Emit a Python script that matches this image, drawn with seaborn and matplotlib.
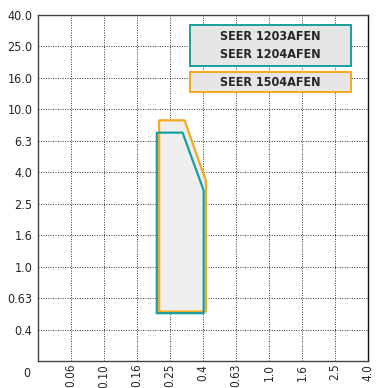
import matplotlib
matplotlib.use('Agg')
import matplotlib.pyplot as plt
import seaborn as sns
import pandas as pd
from matplotlib.patches import Rectangle

sns.set_style('white')
plt.rcParams['font.family'] = ['DejaVu Sans']
plt.rcParams['font.stretch'] = 'condensed'

# tick labels (axis uses evenly spaced steps)
x_labels = ['0.06', '0.10', '0.16', '0.25', '0.4', '0.63', '1.0', '1.6', '2.5', '4.0']
y_labels = ['0.4', '0.63', '1.0', '1.6', '2.5', '4.0', '6.3', '10.0', '16.0', '25.0', '40.0']

# operating envelopes, in axis step units
series_names = ['SEER 1504AFEN', 'SEER 1203AFEN\nSEER 1204AFEN']
series_colors = ['#f5a91c', '#17a09c']
env_x = [[3.67, 3.67, 4.44, 5.09, 5.09, 3.67],
         [3.60, 3.60, 4.38, 5.02, 5.02, 3.60]]
env_y = [[1.57, 7.65, 7.65, 5.72, 1.57, 1.57],
         [1.52, 7.26, 7.26, 5.42, 1.52, 1.52]]

fig = plt.figure(figsize=(3.77, 3.88), dpi=100)
ax = fig.add_axes([0.1008, 0.0696, 0.8754, 0.8918])

for xs, ys in zip(env_x, env_y):
    ax.fill(xs, ys, color='#efefef', zorder=1)
for xs, ys, c in zip(env_x, env_y, series_colors):
    df = pd.DataFrame({'x': xs, 'y': ys})
    sns.lineplot(data=df, x='x', y='y', sort=False, estimator=None, color=c, lw=1.6, ax=ax, zorder=3)

ax.set_xlim(0, len(x_labels))
ax.set_ylim(0, len(y_labels))
ax.set_xticks(range(1, len(x_labels) + 1))
ax.set_xticklabels(x_labels, rotation=90, fontsize=8.5)
ax.set_yticks(range(1, len(y_labels) + 1))
ax.set_yticklabels(y_labels, fontsize=9)
ax.tick_params(axis='x', length=0, pad=2)
ax.tick_params(axis='y', length=0, pad=4)
ax.set_xlabel('')
ax.set_ylabel('')
ax.grid(True, linestyle=(0, (1, 1.5)), color='#333333', lw=0.7, zorder=0)
ax.set_axisbelow(True)
for s in ax.spines.values():
    s.set_color('#444444')
    s.set_linewidth(1)
ax.spines['right'].set_color('#111111')
ax.text(-0.022, -0.035, '0', transform=ax.transAxes, ha='right', va='center', fontsize=9)

# legend boxes
ax.add_patch(Rectangle((0.461, 0.853), 0.487, 0.118, transform=ax.transAxes,
                       facecolor='#e6e6e6', edgecolor=series_colors[1], lw=1.4, zorder=5))
ax.text(0.7045, 0.912, series_names[1], transform=ax.transAxes, ha='center', va='center',
        fontsize=9, fontweight='bold', linespacing=1.5, zorder=6)
ax.add_patch(Rectangle((0.461, 0.777), 0.487, 0.058, transform=ax.transAxes,
                       facecolor='#e6e6e6', edgecolor=series_colors[0], lw=1.4, zorder=5))
ax.text(0.7045, 0.806, series_names[0], transform=ax.transAxes, ha='center', va='center',
        fontsize=9, fontweight='bold', zorder=6)

fig.savefig('out.png', dpi=100)
